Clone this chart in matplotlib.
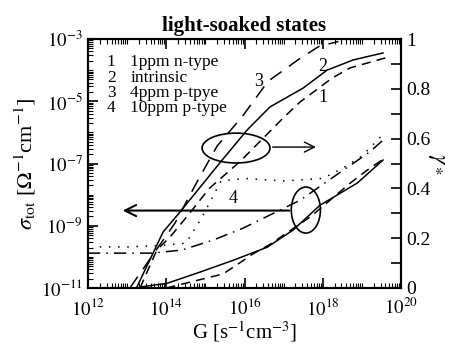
import numpy as np
import matplotlib
matplotlib.use("Agg")
import matplotlib.pyplot as plt
from matplotlib.patches import Ellipse
from matplotlib.ticker import FixedLocator, NullFormatter, FuncFormatter

plt.rcParams['font.family'] = ['Liberation Serif', 'DejaVu Serif']
plt.rcParams['mathtext.fontset'] = 'stix'

# ---------------- data (log10 G) ----------------
# gamma* curves (right axis)
g1_logG = [13.33, 13.76, 14.1, 14.56, 15.1, 15.9, 16.99, 17.42, 18.24, 18.7, 19.6]
g1_val = [0.0, 0.153, 0.205, 0.293, 0.40, 0.51, 0.683, 0.747, 0.843, 0.884, 0.924]

g2_logG = [13.25, 13.92, 14.35, 15.43, 16.07, 16.65, 17.5, 18.11, 18.78, 19.54]
g2_val = [0.004, 0.225, 0.305, 0.514, 0.635, 0.727, 0.803, 0.875, 0.916, 0.944]

g3_logG = [13.07, 13.6, 14.22, 14.8, 15.3, 15.95, 16.6, 17.4, 17.9, 18.4]
g3_val = [0.0, 0.12, 0.26, 0.43, 0.57, 0.69, 0.83, 0.92, 0.97, 0.99]

g4_logG = [12.3, 13.0, 13.8, 14.5, 14.9, 15.4, 16.0, 17.0, 18.0, 18.5, 19.0, 19.5]
g4_val = [0.165, 0.165, 0.17, 0.18, 0.28, 0.43, 0.44, 0.43, 0.44, 0.48, 0.53, 0.61]

# sigma_tot curves (left axis), log10 sigma
s_solid_logG = [13.33, 14.02, 14.86, 15.71, 16.58, 17.24, 17.93, 18.88, 19.54]
s_solid_log = [-10.97, -10.85, -10.49, -10.11, -9.69, -9.14, -8.34, -7.63, -6.89]

s_dash_logG = [14.0, 15.45, 15.81, 16.22, 16.65, 17.7, 18.7, 19.14, 19.5]
s_dash_log = [-11.0, -10.55, -10.25, -9.9, -9.6, -8.7, -7.63, -7.21, -6.9]

s_dd_logG = [12.0, 13.64, 14.4, 15.2, 15.96, 16.48, 17.42, 18.45, 19.2, 19.54]
s_dd_log = [-9.88, -9.88, -9.78, -9.46, -9.08, -8.76, -8.18, -7.28, -6.63, -6.25]

legend_nums = ['1', '2', '3', '4']
legend_txt = ['1ppm n-type', 'intrinsic', '4ppm p-tpye', '10ppm p-type']

x_major = [12, 14, 16, 18, 20]
y_major = [-3, -5, -7, -9, -11]
r_ticks = [0, 0.2, 0.4, 0.6, 0.8, 1.0]

# ---------------- figure ----------------
fig = plt.figure(figsize=(4.59, 3.47), dpi=100)
ax = fig.add_axes([88/459, 59/347, 313/459, 249/347])
ax2 = ax.twinx()

ax.set_xscale('log')
ax.set_yscale('log')
ax.set_xlim(1e12, 1e20)
ax.set_ylim(1e-11, 1e-3)
ax2.set_ylim(0, 1)

lw = 1.1
ax2.plot(10.0**np.array(g1_logG), g1_val, color='black', lw=lw, ls=(0, (6, 4)))
ax2.plot(10.0**np.array(g2_logG), g2_val, color='black', lw=lw, ls='-')
ax2.plot(10.0**np.array(g3_logG), g3_val, color='black', lw=lw, ls=(0, (9, 6)))
ax2.plot(10.0**np.array(g4_logG), g4_val, color='black', lw=lw, ls=(0, (1, 5)))

ax.plot(10.0**np.array(s_solid_logG), 10.0**np.array(s_solid_log), color='black', lw=lw, ls='-')
ax.plot(10.0**np.array(s_dash_logG), 10.0**np.array(s_dash_log), color='black', lw=lw, ls=(0, (6, 4)))
ax.plot(10.0**np.array(s_dd_logG), 10.0**np.array(s_dd_log), color='black', lw=lw, ls=(0, (8, 4, 1, 4)))

# ticks
ax.xaxis.set_major_locator(FixedLocator([10.0**e for e in x_major]))
ax.xaxis.set_minor_locator(FixedLocator([m * 10.0**e for e in range(12, 20) for m in range(1, 10)]))
ax.xaxis.set_major_formatter(FuncFormatter(lambda v, p: r'$10^{%d}$' % round(np.log10(v))))
ax.xaxis.set_minor_formatter(NullFormatter())
ax.yaxis.set_major_locator(FixedLocator([10.0**e for e in y_major]))
ax.yaxis.set_minor_locator(FixedLocator([m * 10.0**e for e in range(-11, -3) for m in range(1, 10)]))
ax.yaxis.set_major_formatter(FuncFormatter(lambda v, p: r'$10^{%d}$' % round(np.log10(v))))
ax.yaxis.set_minor_formatter(NullFormatter())
ax.tick_params(which='major', direction='in', length=7, width=1.2, labelsize=13.5, top=True)
ax.tick_params(which='minor', direction='in', length=3.5, width=0.8, top=True)
ax.tick_params(axis='x', pad=7)
ax.tick_params(axis='y', pad=4)

ax2.set_yticks(r_ticks)
ax2.set_yticklabels(['0', '0.2', '0.4', '0.6', '0.8', '1'])
ax2.set_yticks(np.arange(0.1, 1.0, 0.2), minor=True)
ax2.tick_params(which='major', direction='in', length=7, width=1.2, labelsize=14)
ax2.tick_params(which='minor', direction='in', length=7, width=1.2)

for a in (ax, ax2):
    for s in a.spines.values():
        s.set_linewidth(1.5)

ax.set_xlabel(r'G [s$^{-1}$cm$^{-3}$]', fontsize=15, labelpad=0)
ax.set_ylabel(r'$\sigma_{\rm tot}$ [$\Omega^{-1}$cm$^{-1}$]', fontsize=16, labelpad=2)
ax2.set_ylabel(r'$\gamma_*$', fontsize=17, rotation=-90, labelpad=12)
ax.set_title('light-soaked states', fontsize=15, fontweight='bold', pad=6)

# legend text block
for i, (n, t) in enumerate(zip(legend_nums, legend_txt)):
    yf = 0.906 - i * 0.0615
    ax.text(0.074, yf, n, transform=ax.transAxes, fontsize=12.5, va='center', ha='center')
    ax.text(0.135, yf, t, transform=ax.transAxes, fontsize=12.5, va='center', ha='left')

# curve labels
ax.text(0.75, 0.765, '1', transform=ax.transAxes, fontsize=13, ha='center', va='center')
ax.text(0.75, 0.888, '2', transform=ax.transAxes, fontsize=13, ha='center', va='center')
ax.text(0.545, 0.83, '3', transform=ax.transAxes, fontsize=13, ha='center', va='center')
ax.text(0.465, 0.36, '4', transform=ax.transAxes, fontsize=13, ha='center', va='center')

# ellipses and arrows
ax.add_patch(Ellipse((0.473, 0.562), 0.217, 0.12, transform=ax.transAxes,
                     fill=False, ec='black', lw=1.2))
ax.annotate('', xy=(0.737, 0.566), xytext=(0.581, 0.566), xycoords='axes fraction',
            arrowprops=dict(arrowstyle='->', lw=1.0, color='black', mutation_scale=18))
ax.add_patch(Ellipse((0.696, 0.313), 0.093, 0.185, transform=ax.transAxes,
                     fill=False, ec='black', lw=1.2))
ax.annotate('', xy=(0.102, 0.311), xytext=(0.652, 0.311), xycoords='axes fraction',
            arrowprops=dict(arrowstyle='->', lw=1.5, color='black', mutation_scale=20))

fig.savefig('out.png', dpi=100)
